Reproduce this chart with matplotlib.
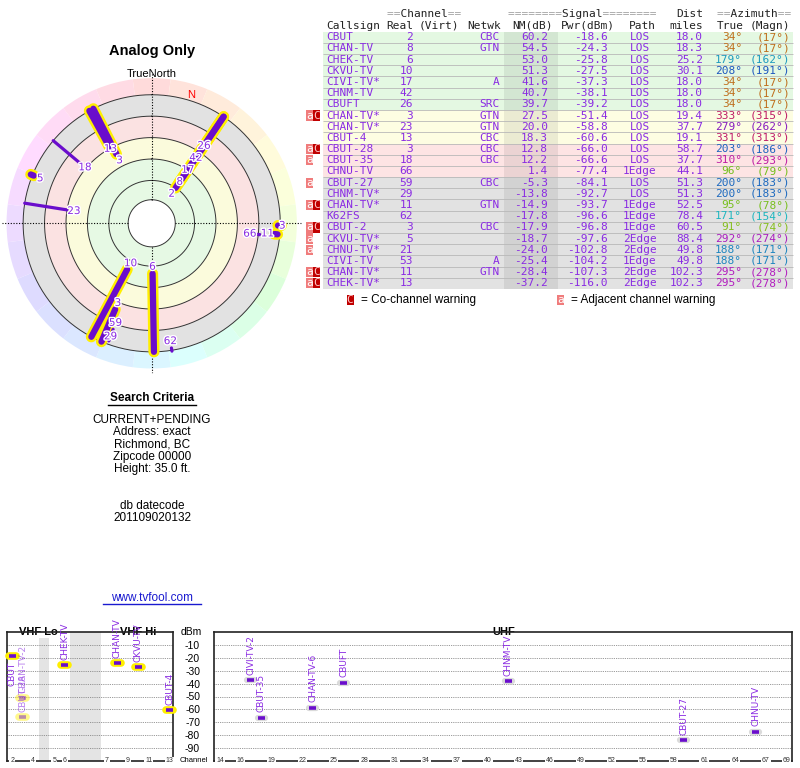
import colorsys
import numpy as np
import matplotlib
matplotlib.use("Agg")
import matplotlib.pyplot as plt
import matplotlib.patheffects as pe
from matplotlib.lines import Line2D

plt.rcParams['axes.unicode_minus'] = False

# station table, one entry per row
callsigns = ['CBUT', 'CHAN-TV', 'CHEK-TV', 'CKVU-TV', 'CIVI-TV*', 'CHNM-TV', 'CBUFT',
             'CHAN-TV*', 'CHAN-TV*', 'CBUT-4', 'CBUT-28', 'CBUT-35', 'CHNU-TV',
             'CBUT-27', 'CHNM-TV*', 'CHAN-TV*', 'K62FS', 'CBUT-2', 'CKVU-TV*',
             'CHNU-TV*', 'CIVI-TV', 'CHAN-TV*', 'CHEK-TV*']
channels = [2, 8, 6, 10, 17, 42, 26, 3, 23, 13, 3, 18, 66, 59, 29, 11, 62, 3, 5, 21, 53, 11, 13]
networks = ['CBC', 'GTN', '', '', 'A', '', 'SRC', 'GTN', 'GTN', 'CBC', 'CBC', 'CBC', '',
            'CBC', '', 'GTN', '', 'CBC', '', '', 'A', 'GTN', '']
nm_db = [60.2, 54.5, 53.0, 51.3, 41.6, 40.7, 39.7, 27.5, 20.0, 18.3, 12.8, 12.2, 1.4,
         -5.3, -13.8, -14.9, -17.8, -17.9, -18.7, -24.0, -25.4, -28.4, -37.2]
pwr_dbm = [-18.6, -24.3, -25.8, -27.5, -37.3, -38.1, -39.2, -51.4, -58.8, -60.6, -66.0,
           -66.6, -77.4, -84.1, -92.7, -93.7, -96.6, -96.8, -97.6, -102.8, -104.2, -107.3, -116.0]
paths = ['LOS', 'LOS', 'LOS', 'LOS', 'LOS', 'LOS', 'LOS', 'LOS', 'LOS', 'LOS', 'LOS', 'LOS',
         '1Edge', 'LOS', 'LOS', '1Edge', '1Edge', '1Edge', '2Edge', '2Edge', '1Edge', '2Edge', '2Edge']
dist_miles = [18.0, 18.3, 25.2, 30.1, 18.0, 18.0, 18.0, 19.4, 37.7, 19.1, 58.7, 37.7, 44.1,
              51.3, 51.3, 52.5, 78.4, 60.5, 88.4, 49.8, 49.8, 102.3, 102.3]
az_true = [34, 34, 179, 208, 34, 34, 34, 333, 279, 331, 203, 310, 96, 200, 200, 95, 171, 91,
           292, 188, 188, 295, 295]
az_magn = [17, 17, 162, 191, 17, 17, 17, 315, 262, 313, 186, 293, 79, 183, 183, 78, 154, 74,
           274, 171, 171, 278, 278]
warnings = ['', '', '', '', '', '', '', 'aC', '', '', 'aC', 'a', '', 'a', '', 'aC', '', 'aC',
            'a', 'a', '', 'aC', 'aC']
# names used in the spectrum strip ('' = not shown)
spectrum_names = ['CBUT', 'CHAN-TV', 'CHEK-TV', 'CKVU-TV', 'CIVI-TV-2', 'CHNM-TV', 'CBUFT',
                  'CHAN-TV-2', 'CHAN-TV-6', 'CBUT-4', 'CBUT-28', 'CBUT-35', 'CHNU-TV', 'CBUT-27',
                  '', '', '', '', '', '', '', '', '']

vhf_ticks = [2, 4, 5, 6, 7, 9, 11, 13]
uhf_ticks = [14, 16, 19, 22, 25, 28, 31, 34, 37, 40, 43, 46, 49, 52, 55, 58, 61, 64, 67, 69]
dbm_ticks = [-10, -20, -30, -40, -50, -60, -70, -80, -90]

search_lines = ['CURRENT+PENDING', 'Address: exact', 'Richmond, BC', 'Zipcode 00000',
                'Height: 35.0 ft.']
datecode = '201109020132'

W, H = 800, 768
PURPLE = '#8a2be2'
BAR = '#6a0dcc'
YEL = '#ffee00'
MONO = 'DejaVu Sans Mono'
SANS = 'Liberation Sans'


def fx(x):
    return x / W


def fy(y):
    return 1 - y / H


def hue_of(az):
    return np.interp(az, [0, 90, 180, 270, 360], [0, 80, 195, 270, 360]) / 360.0


def az_color(az):
    return colorsys.hsv_to_rgb(hue_of(az), 0.85, 0.75)


def row_color(nm):
    if nm >= 35:
        return '#e4f8e2'
    if nm >= 15:
        return '#fdfde2'
    if nm >= 0:
        return '#fde4e4'
    return '#e2e2e2'


fig = plt.figure(figsize=(W / 100, H / 100), dpi=100)

# ---------------- radar plot ----------------
NM_TOP = 100   # NM at the centre
RIM = 120      # radius where NM = -20
ax_r = fig.add_axes([fx(1.7), fy(373.3), 300 / W, 300 / H], projection='polar')
ax_r.set_theta_zero_location('N')
ax_r.set_theta_direction(-1)
ax_r.set_axis_off()
ax_r.set_ylim(0, 140)

bands = [(0, 22, 'white'), (22, 60, '#e6f9e4'), (60, 80, '#fbfbdc'),
         (80, 100, '#fbe2e2'), (100, 120, '#e2e2e2')]
for b0, b1, c in bands:
    ax_r.bar(0, b1 - b0, width=2 * np.pi, bottom=b0, color=c, edgecolor='none', zorder=1)
ring_az = np.arange(0, 360, 15)
ax_r.bar(np.deg2rad(ring_az), 15.5, width=np.deg2rad(15), bottom=RIM,
         color=[colorsys.hsv_to_rgb(hue_of(a), 0.14, 1.0) for a in ring_az],
         edgecolor='none', zorder=1)
tt = np.linspace(0, 2 * np.pi, 400)
for rr in [22, 40, 60, 80, 100, 120]:
    ax_r.plot(tt, np.full_like(tt, rr), color='#333333', lw=0.7, zorder=2)
for a in [0, 90, 180, 270]:
    ax_r.plot([np.deg2rad(a)] * 2, [22, 140], color='black', lw=0.8,
              ls=(0, (1, 1.5)), zorder=2.5)

labels = []
for i in range(len(callsigns)):
    if nm_db[i] < -20:
        continue
    th = np.deg2rad(az_true[i])
    r0 = NM_TOP - nm_db[i]
    r1 = RIM if nm_db[i] > 10 else r0 + 3
    vhf = channels[i] <= 13
    if vhf:
        ax_r.plot([th, th], [r0, r1], color=YEL, lw=8, solid_capstyle='round', zorder=3)
    ax_r.plot([th, th], [r0, r1], color=BAR, lw=4.5 if vhf else 2.3,
              solid_capstyle='round', zorder=4)
    labels.append([az_true[i], r0 - 6.5, str(channels[i])])

# push apart labels that share roughly the same bearing
labels.sort(key=lambda l: l[0])
groups = []
for lab in labels:
    if groups and lab[0] - groups[-1][-1][0] <= 6:
        groups[-1].append(lab)
    else:
        groups.append([lab])
for g in groups:
    g.sort(key=lambda l: l[1])
    for k in range(1, len(g)):
        if g[k][1] - g[k - 1][1] < 13.5:
            g[k][1] = g[k - 1][1] + 13.5
    for a, r, s in g:
        ax_r.text(np.deg2rad(a), r, s, ha='center', va='center', fontsize=7.5,
                  color=PURPLE, zorder=6,
                  path_effects=[pe.withStroke(linewidth=2, foreground='white')])

decl = az_true[0] - az_magn[0]
ax_r.text(np.deg2rad(decl), 125, 'N', color='red', fontsize=8, family=SANS,
          ha='center', va='center', zorder=6)

fig.text(fx(152), fy(51), 'Analog Only', ha='center', va='center', fontsize=10.5,
         fontweight='bold', family=SANS)
fig.text(fx(152), fy(74), 'TrueNorth', ha='center', va='center', fontsize=8, family=SANS)

# ---------------- search criteria ----------------
fig.text(fx(152), fy(398), 'Search Criteria', ha='center', va='center', fontsize=8.5,
         fontweight='bold', family=SANS)
fig.add_artist(Line2D([fx(108), fx(196)], [fy(404.5)] * 2, color='black', lw=1))
for k, s in enumerate(search_lines):
    fig.text(fx(152), fy(420 + k * 12.3), s, ha='center', va='center', fontsize=8.5, family=SANS)
fig.text(fx(152), fy(506), 'db datecode', ha='center', va='center', fontsize=8.5, family=SANS)
fig.text(fx(152), fy(518), datecode, ha='center', va='center', fontsize=8.5, family=SANS)
fig.text(fx(152), fy(598), 'www.tvfool.com', ha='center', va='center', fontsize=8.5,
         family=SANS, color='#1a1ad0')
fig.add_artist(Line2D([fx(103), fx(201)], [fy(603.5)] * 2, color='#1a1ad0', lw=1))

# ---------------- table ----------------
n = len(callsigns)
rows = np.arange(n)
ax_t = fig.add_axes([fx(300), fy(288.9), 500 / W, 257.2 / H])
ax_t.set_xlim(300, 800)
ax_t.set_ylim(n - 0.5, -0.5)
ax_t.axis('off')
ax_t.barh(rows, 470, left=323, height=1, color=[row_color(v) for v in nm_db], zorder=1)
ax_t.barh(rows, 54, left=504, height=1, color='black', alpha=0.07, zorder=1.5)
ax_t.hlines(rows[:-1] + 0.5, 323, 793, color='#b8b8b8', lw=0.6, zorder=2)

tkw = dict(va='center', family=MONO, fontsize=8, color=PURPLE, zorder=3)
for i in rows:
    ax_t.text(326, i, callsigns[i], ha='left', **tkw)
    ax_t.text(413, i, str(channels[i]), ha='right', **tkw)
    ax_t.text(500, i, networks[i], ha='right', **tkw)
    ax_t.text(548, i, f'{nm_db[i]:.1f}', ha='right', **tkw)
    ax_t.text(608, i, f'{pwr_dbm[i]:.1f}', ha='right', **tkw)
    ax_t.text(640, i, paths[i], ha='center', **tkw)
    ax_t.text(703, i, f'{dist_miles[i]:.1f}', ha='right', **tkw)
    c = az_color(az_true[i])
    ax_t.text(742, i, f'{az_true[i]}°', ha='right', va='center', family=MONO, fontsize=8,
              color=c, zorder=3)
    ax_t.text(790, i, f'({az_magn[i]}°)', ha='right', va='center', family=MONO, fontsize=8,
              color=c, zorder=3)

# warning flags
a_rows = [i for i in rows if 'a' in warnings[i]]
c_rows = [i for i in rows if 'C' in warnings[i]]
ax_t.barh(a_rows, 6.8, left=305.8, height=0.92, color='#f07c7c', zorder=2)
ax_t.barh(c_rows, 7, left=313, height=0.92, color='#c00000', zorder=2)
for i in a_rows:
    ax_t.text(309.2, i, 'a', ha='center', va='center', family=MONO, fontsize=8,
              color='white', zorder=3)
for i in c_rows:
    ax_t.text(316.5, i, 'C', ha='center', va='center', family=MONO, fontsize=8,
              color='#ffc8c8', zorder=3)


def header(x, y, s):
    dark = ''.join(ch if ch != '=' else ' ' for ch in s)
    light = ''.join(ch if ch == '=' else ' ' for ch in s)
    ax_t.text(x, y, light, ha='left', va='center', family=MONO, fontsize=8, color='#a0a0a0')
    ax_t.text(x, y, dark, ha='left', va='center', family=MONO, fontsize=8, color='#222222')


hkw = dict(va='center', family=MONO, fontsize=8, color='#222222')
header(387, -2.05, '==Channel==')
header(508, -2.05, '========Signal========')
ax_t.text(703, -2.05, 'Dist', ha='right', **hkw)
header(717, -2.05, '==Azimuth==')
ax_t.text(326, -1.05, 'Callsign', ha='left', **hkw)
ax_t.text(413, -1.05, 'Real', ha='right', **hkw)
ax_t.text(419, -1.05, '(Virt)', ha='left', **hkw)
ax_t.text(501, -1.05, 'Netwk', ha='right', **hkw)
ax_t.text(553, -1.05, 'NM(dB)', ha='right', **hkw)
ax_t.text(615, -1.05, 'Pwr(dBm)', ha='right', **hkw)
ax_t.text(642, -1.05, 'Path', ha='center', **hkw)
ax_t.text(703, -1.05, 'miles', ha='right', **hkw)
ax_t.text(717, -1.05, 'True', ha='left', **hkw)
ax_t.text(790, -1.05, '(Magn)', ha='right', **hkw)

# legend
ax_t.barh([n + 0.5], 7, left=346.5, height=0.92, color='#c00000', clip_on=False)
ax_t.text(350, n + 0.5, 'C', ha='center', va='center', family=MONO, fontsize=8, color='#ffc8c8')
ax_t.text(361, n + 0.5, '= Co-channel warning', ha='left', va='center', family=SANS, fontsize=8.5)
ax_t.barh([n + 0.5], 7, left=557, height=0.92, color='#f07c7c', clip_on=False)
ax_t.text(560.5, n + 0.5, 'a', ha='center', va='center', family=MONO, fontsize=8, color='white')
ax_t.text(571, n + 0.5, '= Adjacent channel warning', ha='left', va='center', family=SANS,
          fontsize=8.5)


# ---------------- spectrum strip ----------------
def vhf_slot(ch):
    # slots: 2,3,4 | gap | 5,6 | wide gap | 7..13
    if ch <= 4:
        return ch - 2
    if ch <= 6:
        return ch - 1
    return ch + 2


ax_v = fig.add_axes([fx(6.7), fy(761), 166.6 / W, 129 / H])
ax_u = fig.add_axes([fx(214), fy(761), 578.3 / W, 129 / H])
ax_v.set_xlim(-0.53, 15.34)
ax_u.set_xlim(13.42, 69.56)
for ax in (ax_v, ax_u):
    ax.set_ylim(-100, 0)
    ax.set_xticks([])
    for sp in ax.spines.values():
        sp.set_linewidth(1.2)
        sp.set_color('#222222')
    for y in dbm_ticks:
        ax.axhline(y, color='#777777', lw=0.6, ls=(0, (1, 1.2)), zorder=0.5)
ax_v.set_yticks([])
ax_u.set_yticks(dbm_ticks)
ax_u.tick_params(axis='y', length=0, pad=10, labelsize=7.5)
for t in ax_u.get_yticklabels():
    t.set_family(SANS)
ax_v.axvspan(2.5, 3.5, color='#e4e4e4', lw=0, zorder=0.3)
ax_v.axvspan(5.5, 8.5, color='#e4e4e4', lw=0, zorder=0.3)

tick_kw = dict(ha='center', va='center', fontsize=5, color='#333333', family=SANS,
               bbox=dict(facecolor='white', edgecolor='none', pad=0.6), clip_on=False)
for ch in vhf_ticks:
    ax_v.text(vhf_slot(ch), -100, str(ch), **tick_kw)
for ch in uhf_ticks:
    ax_u.text(ch, -100, str(ch), **tick_kw)

lab_kw = dict(ha='center', va='center', fontsize=8, fontweight='bold', family=SANS,
              bbox=dict(facecolor='white', edgecolor='none', pad=0.8), zorder=2)
ax_v.text(2.5, 0, 'VHF Lo', **lab_kw)
ax_v.text(12, 0, 'VHF Hi', **lab_kw)
ax_u.text(41.5, 0, 'UHF', **lab_kw)

for i, name in enumerate(spectrum_names):
    if not name:
        continue
    ch, p = channels[i], pwr_dbm[i]
    if ch <= 13:
        ax, x = ax_v, vhf_slot(ch)
    else:
        ax, x = ax_u, ch
    alpha = 0.45 if 'C' in warnings[i] else 1.0
    xs = [x - 0.35, x + 0.35]
    if ch <= 13:
        ax.plot(xs, [p, p], color=YEL, lw=5.5, solid_capstyle='round', alpha=alpha,
                zorder=3, clip_on=False)
    else:
        ax.plot(xs, [p, p], color='#dadada', lw=4.5, solid_capstyle='round', zorder=3,
                clip_on=False)
    ax.plot(xs, [p, p], color=BAR, lw=2.6, solid_capstyle='butt', alpha=alpha, zorder=4,
            clip_on=False)
    below = p > -20
    ax.annotate(name, (x, p), xytext=(0, -4 if below else 4), textcoords='offset points',
                rotation=90, ha='center', va='top' if below else 'bottom', fontsize=6.5,
                color=PURPLE, alpha=0.6 if alpha < 1 else 1.0, annotation_clip=False,
                zorder=5)

fig.text(fx(191), fy(632), 'dBm', ha='center', va='center', fontsize=7.5, family=SANS)
fig.text(fx(194), fy(760), 'Channel', ha='center', va='center', fontsize=5.5, family=SANS)

fig.savefig('out.png', dpi=100)
